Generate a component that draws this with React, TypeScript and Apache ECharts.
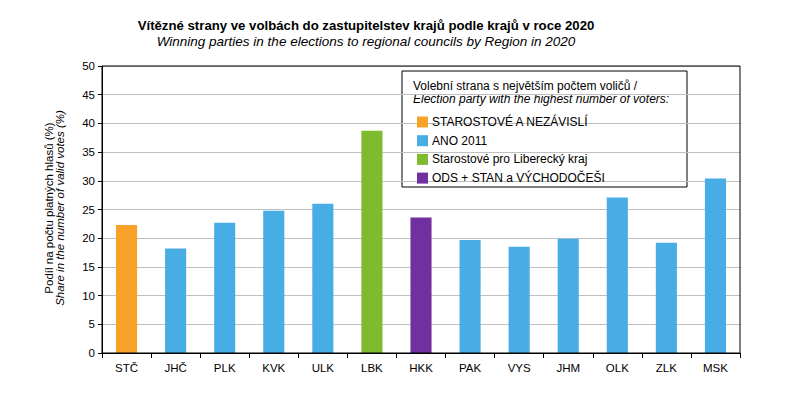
import React, { useEffect, useRef } from "react";
import * as echarts from "echarts";

const categories = ["STČ", "JHČ", "PLK", "KVK", "ULK", "LBK", "HKK", "PAK", "VYS", "JHM", "OLK", "ZLK", "MSK"];
const values = [22.3, 18.2, 22.7, 24.8, 26.0, 38.7, 23.6, 19.7, 18.5, 19.9, 27.1, 19.2, 30.4];
// party index per region: 0 STAN, 1 ANO, 2 SLK, 3 ODS+STAN+VČ
const partyOf = [0, 1, 1, 1, 1, 2, 3, 1, 1, 1, 1, 1, 1];
const parties = ["STAROSTOVÉ A NEZÁVISLÍ", "ANO 2011", "Starostové pro Liberecký kraj", "ODS + STAN a VÝCHODOČEŠI"];
const partyColors = ["#F9A229", "#48ADE5", "#7EBB2E", "#7030A0"];
const yTicks = { min: 0, max: 50, interval: 5 };

const FONT = "'Liberation Sans', Arial, sans-serif";

export default function App() {
  const ref = useRef<HTMLDivElement>(null);
  useEffect(() => {
    if (!ref.current) return;
    const chart = echarts.init(ref.current, null, { renderer: "svg" });
    const series = parties.map((p, pi) => ({
      name: p,
      type: "bar" as const,
      stack: "all",
      barWidth: "43%",
      itemStyle: { color: partyColors[pi] },
      data: values.map((v, i) => (partyOf[i] === pi ? v : null)),
    }));
    chart.setOption({
      animation: false,
      textStyle: { fontFamily: FONT },
      grid: { left: 102, right: 66, top: 66, bottom: 40 },
      xAxis: {
        type: "category",
        data: categories,
        axisLine: { lineStyle: { color: "#000" } },
        axisTick: { show: true, length: 5, lineStyle: { color: "#000" } },
        axisLabel: { color: "#000", fontSize: 11.5, margin: 9, fontFamily: FONT },
      },
      yAxis: {
        type: "value",
        min: yTicks.min,
        max: yTicks.max,
        interval: yTicks.interval,
        axisLine: { show: true, lineStyle: { color: "#000" } },
        axisTick: { show: true, length: 4, lineStyle: { color: "#000" } },
        axisLabel: { color: "#000", fontSize: 11.5, margin: 7, fontFamily: FONT },
        splitLine: { lineStyle: { color: "#BFBFBF" } },
      },
      legend: {
        orient: "vertical",
        left: 412,
        top: 111,
        itemWidth: 11,
        itemHeight: 11,
        itemGap: 6.7,
        icon: "rect",
        textStyle: { fontSize: 12, color: "#000", fontFamily: FONT, padding: [0, 0, 0, -1] },
        data: parties,
      },
      graphic: [
        {
          type: "text",
          x: 366,
          y: 25,
          style: { text: "Vítězné strany ve volbách do zastupitelstev krajů podle krajů v roce 2020", fill: "#000", font: `bold 13.2px ${FONT}`, align: "center", verticalAlign: "middle" },
        },
        {
          type: "text",
          x: 366,
          y: 41,
          style: { text: "Winning parties in the elections to regional councils by Region in 2020", fill: "#000", font: `italic 13.5px ${FONT}`, align: "center", verticalAlign: "middle" },
        },
        {
          type: "rect",
          shape: { x: 102, y: 66, width: 638, height: 287 },
          style: { fill: "none", stroke: "#000", lineWidth: 1 },
          silent: true,
          z: 100,
        },
        {
          type: "rect",
          shape: { x: 402, y: 71, width: 285, height: 116 },
          style: { fill: "#fff", stroke: "#000", lineWidth: 1 },
          z: -1,
        },
        {
          type: "text",
          x: 413,
          y: 86,
          style: { text: "Volební strana s největším počtem voličů /", fill: "#000", font: `12px ${FONT}`, verticalAlign: "middle" },
        },
        {
          type: "text",
          x: 413,
          y: 99,
          style: { text: "Election party with the highest number of voters:", fill: "#000", font: `italic 12px ${FONT}`, verticalAlign: "middle" },
        },
        {
          type: "text",
          x: 49,
          y: 208,
          rotation: Math.PI / 2,
          style: { text: "Podíl na počtu platných hlasů (%)", fill: "#000", font: `11.5px ${FONT}`, align: "center", verticalAlign: "middle" },
        },
        {
          type: "text",
          x: 60,
          y: 208,
          rotation: Math.PI / 2,
          style: { text: "Share in the number of valid votes (%)", fill: "#000", font: `italic 11.5px ${FONT}`, align: "center", verticalAlign: "middle" },
        },
      ],
      series,
    });
    return () => chart.dispose();
  }, []);
  return <div ref={ref} style={{ position: "absolute", left: 0, top: 0, width: 806, height: 393 }} />;
}
